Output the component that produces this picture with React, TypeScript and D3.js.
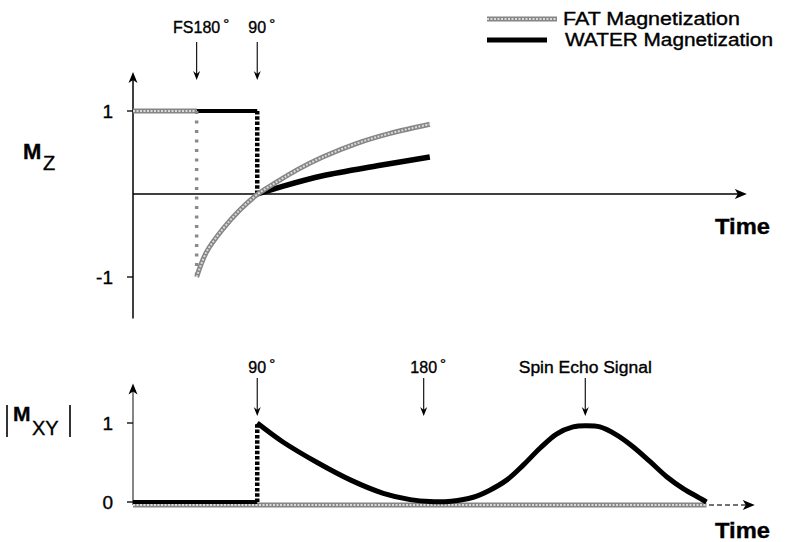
import React, { useEffect, useRef } from "react";
import * as d3 from "d3";

const W = 786;
const H = 542;

// time axis (arbitrary units) and value domains
const timeDomain: [number, number] = [0, 100];
const mzDomain: [number, number] = [-1, 1];
const mxyDomain: [number, number] = [0, 1];
const mzAxisExtent: [number, number] = [-1.5, 1.47];
const mxyAxisExtent: [number, number] = [0, 1.5];
const topTimeAxisEnd = 100.3;
const bottomTimeAxisEnd = 101.6;
const mzTicks = [1, -1];
const mzTickLabels = ["1", "-1"];
const mxyTicks = [1, 0];
const mxyTickLabels = ["1", "0"];

// pulse events
const topEvents = [
  { label: "FS180", t: 10.4, deg: true },
  { label: "90", t: 20.3, deg: true },
];
const bottomEvents = [
  { label: "90", t: 20.3, deg: true },
  { label: "180", t: 47.5, deg: true },
  { label: "Spin Echo Signal", t: 73.9, deg: false },
];

// Mz: FAT
const fatMzBefore: [number, number][] = [[0, 1], [10.4, 1]];
const fatMzInversion: [number, number][] = [[10.4, 1], [10.4, -1]];
const fatMzRecovery: [number, number][] = [
  [10.4, -1], [12.0, -0.7], [14.7, -0.42], [17.5, -0.19], [20.4, 0],
  [23.5, 0.145], [26.8, 0.29], [31.0, 0.445], [36.6, 0.61], [42.0, 0.73], [48.5, 0.84],
];
// Mz: WATER
const waterMzBefore: [number, number][] = [[0, 1], [20.3, 1]];
const waterMzFlip: [number, number][] = [[20.3, 1], [20.3, 0]];
const waterMzRecovery: [number, number][] = [
  [20.3, 0], [24.3, 0.09], [31.0, 0.22], [39.9, 0.34], [48.5, 0.445],
];
// |Mxy|: FAT
const fatMxy: [number, number][] = [[0, 0], [93.7, 0]];
// |Mxy|: WATER
const waterMxyBefore: [number, number][] = [[0, 0], [20.3, 0]];
const waterMxyFlip: [number, number][] = [[20.3, 0], [20.3, 1]];
const waterMxySignal: [number, number][] = [
  [20.3, 1], [24.5, 0.76], [30.1, 0.5], [35.5, 0.28], [40.9, 0.11], [45.3, 0.03],
  [48.5, 0.005], [52.0, 0.01], [55.6, 0.06], [58.3, 0.15], [61.1, 0.28], [63.8, 0.47],
  [66.5, 0.68], [69.2, 0.86], [71.9, 0.95], [73.9, 0.965], [76.3, 0.95], [79.0, 0.85],
  [81.7, 0.7], [84.5, 0.51], [87.2, 0.32], [89.9, 0.17], [92.6, 0.05], [93.7, 0.0],
];

const legendItems = [
  { label: "FAT Magnetization", kind: "fat" },
  { label: "WATER Magnetization", kind: "water" },
];

const FONT = "'Liberation Sans', Arial, Helvetica, sans-serif";

export default function App() {
  const ref = useRef<SVGSVGElement>(null);

  useEffect(() => {
    const svg = d3.select(ref.current as SVGSVGElement);
    svg.selectAll("*").remove();
    svg.append("rect").attr("width", W).attr("height", H).attr("fill", "#fff");
    const root = svg.append("g").attr("font-family", FONT)
      .attr("stroke-width", 0).attr("fill", "#000");

    const x = d3.scaleLinear().domain(timeDomain).range([133, 745]);
    const yMz = d3.scaleLinear().domain(mzDomain).range([277, 111]);
    const yMxy = d3.scaleLinear().domain(mxyDomain).range([502, 423]);

    const smooth = d3.curveCatmullRom.alpha(0.5);
    const lineMz = d3.line<[number, number]>().x(d => x(d[0])).y(d => yMz(d[1])).curve(smooth);
    const lineMxy = d3.line<[number, number]>().x(d => x(d[0])).y(d => yMxy(d[1])).curve(smooth);
    const straightMz = d3.line<[number, number]>().x(d => x(d[0])).y(d => yMz(d[1]));
    const straightMxy = d3.line<[number, number]>().x(d => x(d[0])).y(d => yMxy(d[1]));

    const txt = (parent: any) =>
      parent.append("text").attr("stroke", "#000").attr("stroke-width", 0.35).attr("fill", "#000");

    const drawFat = (parent: any, d: string | null) => {
      parent.append("path").attr("d", d).attr("fill", "none").attr("stroke", "#868686").attr("stroke-width", 5);
      parent.append("path").attr("d", d).attr("fill", "none").attr("stroke", "#dadada")
        .attr("stroke-width", 2).attr("stroke-dasharray", "2 1.5");
    };
    const drawWater = (parent: any, d: string | null, w = 5) => {
      parent.append("path").attr("d", d).attr("fill", "none").attr("stroke", "#000")
        .attr("stroke-width", w).attr("stroke-linejoin", "round");
    };
    const arrowUp = (cx: number, tip: number) =>
      `M${cx},${tip}L${cx - 4.5},${tip + 11}L${cx},${tip + 8}L${cx + 4.5},${tip + 11}Z`;
    const arrowRight = (tip: number, cy: number) =>
      `M${tip},${cy}L${tip - 12},${cy - 5}L${tip - 9},${cy}L${tip - 12},${cy + 5}Z`;
    const arrowDown = (cx: number, tip: number) =>
      `M${cx},${tip}L${cx - 3.5},${tip - 9}L${cx},${tip - 6}L${cx + 3.5},${tip - 9}Z`;

    // ---------------- TOP PANEL ----------------
    const top = root.append("g");
    top.append("line").attr("x1", x(0)).attr("x2", x(0))
      .attr("y1", yMz(mzAxisExtent[0])).attr("y2", yMz(mzAxisExtent[1]) + 6)
      .attr("stroke", "#000").attr("stroke-width", 1.5);
    top.append("path").attr("d", arrowUp(x(0), yMz(mzAxisExtent[1]))).attr("fill", "#000");
    top.append("line").attr("x1", x(0)).attr("x2", x(topTimeAxisEnd) - 8)
      .attr("y1", yMz(0)).attr("y2", yMz(0)).attr("stroke", "#000").attr("stroke-width", 1.5);
    top.append("path").attr("d", arrowRight(x(topTimeAxisEnd), yMz(0))).attr("fill", "#000");
    mzTicks.forEach((v, i) => {
      top.append("line").attr("x1", x(0) - 6).attr("x2", x(0)).attr("y1", yMz(v)).attr("y2", yMz(v))
        .attr("stroke", "#000").attr("stroke-width", 1.3);
      txt(top).attr("x", 113).attr("y", yMz(v) + 6.5).attr("text-anchor", "end")
        .attr("font-size", 19).text(mzTickLabels[i]);
    });
    drawWater(top, straightMz(waterMzBefore), 4);
    drawFat(top, straightMz(fatMzBefore));
    top.append("path").attr("d", straightMz(fatMzInversion)).attr("stroke", "#8a8a8a")
      .attr("stroke-width", 3.5).attr("stroke-dasharray", "3 6.5").attr("fill", "none");
    top.append("path").attr("d", straightMz(waterMzFlip)).attr("stroke", "#000")
      .attr("stroke-width", 4.5).attr("stroke-dasharray", "3.5 1.8").attr("fill", "none");
    drawWater(top, lineMz(waterMzRecovery), 5.5);
    drawFat(top, lineMz(fatMzRecovery));

    const mz = txt(top).attr("x", 23).attr("y", 159).attr("font-size", 22);
    mz.append("tspan").attr("font-weight", "bold").text("M");
    mz.append("tspan").attr("x", 43).attr("y", 170).attr("font-size", 20).text("Z");
    txt(top).attr("x", 770).attr("y", 234).attr("text-anchor", "end")
      .attr("font-size", 22).attr("font-weight", "bold").attr("textLength", 55)
      .attr("lengthAdjust", "spacingAndGlyphs").text("Time");

    const drawEvents = (events: typeof topEvents, labelY: number, y1: number, y2: number) => {
      events.forEach(e => {
        const cx = x(e.t);
        const t = txt(root).attr("x", cx).attr("y", labelY).attr("text-anchor", "middle")
          .attr("font-size", 16).text(e.label);
        if (e.label === "Spin Echo Signal") t.attr("textLength", 133).attr("lengthAdjust", "spacingAndGlyphs");
        if (e.deg) {
          const w = (t.node() as SVGTextElement).getComputedTextLength();
          txt(root).attr("x", cx + w / 2 + 3).attr("y", labelY - 4)
            .attr("font-size", 15).text("°");
        }
        root.append("line").attr("x1", cx).attr("x2", cx).attr("y1", y1).attr("y2", y2 - 5)
          .attr("stroke", "#000").attr("stroke-width", 1.1);
        root.append("path").attr("d", arrowDown(cx, y2)).attr("fill", "#000");
      });
    };
    drawEvents(topEvents, 33, 42, 80);

    // ---------------- BOTTOM PANEL ----------------
    const bot = root.append("g");
    bot.append("line").attr("x1", x(0)).attr("x2", x(0))
      .attr("y1", yMxy(mxyAxisExtent[0]) + 3).attr("y2", yMxy(mxyAxisExtent[1]) + 6)
      .attr("stroke", "#222").attr("stroke-width", 1.1);
    bot.append("path").attr("d", arrowUp(x(0), yMxy(mxyAxisExtent[1]))).attr("fill", "#000");
    mxyTicks.forEach((v, i) => {
      bot.append("line").attr("x1", x(0) - 6).attr("x2", x(0)).attr("y1", yMxy(v)).attr("y2", yMxy(v))
        .attr("stroke", "#000").attr("stroke-width", 1.3);
      txt(bot).attr("x", 113).attr("y", yMxy(v) + 6.5).attr("text-anchor", "end")
        .attr("font-size", 19).text(mxyTickLabels[i]);
    });
    const axG = bot.append("g").attr("transform", "translate(0,3)");
    axG.append("line").attr("x1", x(0)).attr("x2", x(bottomTimeAxisEnd) - 8)
      .attr("y1", yMxy(0)).attr("y2", yMxy(0)).attr("stroke", "#444")
      .attr("stroke-width", 1.3).attr("stroke-dasharray", "5 3");
    axG.append("path").attr("d", arrowRight(x(bottomTimeAxisEnd), yMxy(0))).attr("fill", "#000");
    drawFat(axG, straightMxy(fatMxy));
    drawWater(bot, straightMxy(waterMxyBefore), 4);
    bot.append("path").attr("d", straightMxy(waterMxyFlip)).attr("stroke", "#000")
      .attr("stroke-width", 4.5).attr("stroke-dasharray", "3.5 1.8").attr("fill", "none");
    drawWater(bot, lineMxy(waterMxySignal), 5);

    bot.append("line").attr("x1", 7).attr("x2", 7).attr("y1", 405).attr("y2", 437).attr("stroke", "#000").attr("stroke-width", 1.6);
    bot.append("line").attr("x1", 70).attr("x2", 70).attr("y1", 405).attr("y2", 437).attr("stroke", "#000").attr("stroke-width", 1.6);
    const mxy = txt(bot).attr("x", 13).attr("y", 421).attr("font-size", 21);
    mxy.append("tspan").attr("font-weight", "bold").text("M");
    mxy.append("tspan").attr("x", 32).attr("y", 435).attr("font-size", 20).text("XY");
    txt(bot).attr("x", 770).attr("y", 538).attr("text-anchor", "end")
      .attr("font-size", 22).attr("font-weight", "bold").attr("textLength", 55)
      .attr("lengthAdjust", "spacingAndGlyphs").text("Time");

    drawEvents(bottomEvents, 373, 378, 416);

    // ---------------- LEGEND ----------------
    const lg = root.append("g");
    legendItems.forEach((it, i) => {
      const yy = 19 + i * 21;
      if (it.kind === "fat") {
        drawFat(lg, `M487,${yy}L557,${yy}`);
      } else {
        drawWater(lg, `M487,${yy}L547,${yy}`, 5);
      }
      txt(lg).attr("x", i === 0 ? 563 : 565).attr("y", yy + 6)
        .attr("font-size", 17.5).attr("textLength", i === 0 ? 177 : 208)
        .attr("lengthAdjust", "spacingAndGlyphs").text(it.label);
    });
  }, []);

  return <svg ref={ref} width={W} height={H} style={{ position: "absolute", left: 0, top: 0 }} />;
}
